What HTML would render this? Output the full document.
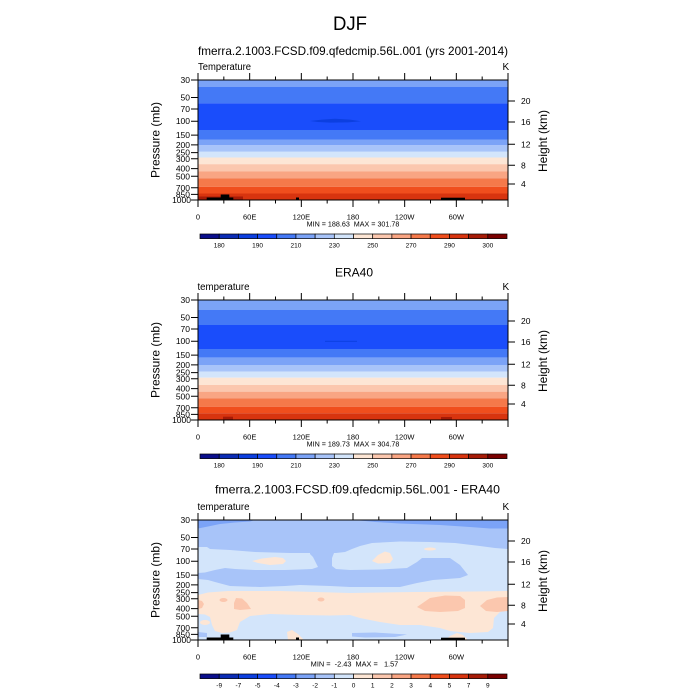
<!DOCTYPE html>
<html><head><meta charset="utf-8"><style>
html,body{margin:0;padding:0;background:#fff;}
svg{display:block;}
text{font-family:"Liberation Sans",Arial,sans-serif;fill:#000;}
</style></head><body>
<svg width="700" height="700" viewBox="0 0 700 700" xmlns="http://www.w3.org/2000/svg">
<rect width="700" height="700" fill="#fff"/>

<!-- Titles -->
<text x="350" y="30" font-size="19" text-anchor="middle" textLength="34" lengthAdjust="spacingAndGlyphs">DJF</text>
<text x="353" y="55" font-size="12" text-anchor="middle" textLength="310" lengthAdjust="spacingAndGlyphs">fmerra.2.1003.FCSD.f09.qfedcmip.56L.001 (yrs 2001-2014)</text>
<text x="354" y="276.7" font-size="12" text-anchor="middle">ERA40</text>
<text x="357.5" y="493.3" font-size="12" text-anchor="middle" textLength="285" lengthAdjust="spacingAndGlyphs">fmerra.2.1003.FCSD.f09.qfedcmip.56L.001 - ERA40</text>

<!-- ===== TOP PANEL FILL ===== -->
<g>
<rect x="198" y="80" width="310" height="7" fill="#7ba3f7"/>
<rect x="198" y="87" width="310" height="16.3" fill="#4479f6"/>
<rect x="198" y="103.3" width="310" height="26.7" fill="#1a4dfb"/>
<rect x="198" y="130" width="310" height="9.5" fill="#4479f6"/>
<rect x="198" y="139.5" width="310" height="5.8" fill="#7ba3f7"/>
<rect x="198" y="145.3" width="310" height="6.5" fill="#a8c4f9"/>
<rect x="198" y="151.8" width="310" height="5.7" fill="#d3e5fb"/>
<rect x="198" y="157.5" width="310" height="6.7" fill="#fde6d5"/>
<rect x="198" y="164.2" width="310" height="7.1" fill="#fbc7ae"/>
<rect x="198" y="171.3" width="310" height="7" fill="#f9a583"/>
<rect x="198" y="178.3" width="310" height="8.5" fill="#f5794a"/>
<rect x="198" y="186.8" width="310" height="6.7" fill="#f04e1d"/>
<rect x="198" y="193.5" width="310" height="6.5" fill="#d8340f"/>
<rect x="198" y="196.5" width="45" height="3.5" fill="#a61b07"/>
<polygon points="310,121 322,119.6 335,118.8 350,119.6 361,121.2 348,122.4 330,122.6 318,122" fill="#0c3fe0"/>
<rect x="206.7" y="197.5" width="26.6" height="2.5" fill="#000"/>
<rect x="220.7" y="194.5" width="8.6" height="5.5" fill="#000"/>
<rect x="296" y="197.5" width="3" height="2.5" fill="#000"/>
<rect x="441" y="197.7" width="24" height="2.3" fill="#000"/>
</g>

<!-- ===== MIDDLE PANEL FILL ===== -->
<g>
<rect x="198" y="300" width="310" height="10" fill="#7ba3f7"/>
<rect x="198" y="310" width="310" height="15" fill="#4479f6"/>
<rect x="198" y="325" width="310" height="24" fill="#1a4dfb"/>
<rect x="198" y="349" width="310" height="8.7" fill="#4479f6"/>
<rect x="198" y="357.7" width="310" height="7.3" fill="#7ba3f7"/>
<rect x="198" y="365" width="310" height="6.7" fill="#a8c4f9"/>
<rect x="198" y="371.7" width="310" height="6" fill="#d3e5fb"/>
<rect x="198" y="377.7" width="310" height="7.3" fill="#fde6d5"/>
<rect x="198" y="385" width="310" height="6.7" fill="#fbc7ae"/>
<rect x="198" y="391.7" width="310" height="6.6" fill="#f9a583"/>
<rect x="198" y="398.3" width="310" height="8.4" fill="#f5794a"/>
<rect x="198" y="406.7" width="310" height="6.6" fill="#f04e1d"/>
<rect x="198" y="413.3" width="310" height="6.7" fill="#d8340f"/>
<rect x="223" y="416.7" width="10" height="3.3" fill="#a61b07"/>
<rect x="441" y="417" width="11" height="3" fill="#a61b07"/>
<rect x="325" y="340.8" width="32" height="1" fill="#0c3fe0"/>
</g>

<!-- ===== BOTTOM PANEL FILL ===== -->
<g>
<rect x="198" y="520" width="310" height="120" fill="#a8c4f9"/>
<polygon points="198,520 255,520 250,521.5 235,522.5 220,524 208,526.5 198,528.5" fill="#7ba3f7"/>
<polygon points="355,520 508,520 508,528.5 490,528.5 470,527 440,525 400,523.5 375,522" fill="#7ba3f7"/>
<polygon points="198,547 207,547 210,549 230,550 255,552 290,553 310,553 330,553 336,553 345,552 352,549 360,546 372,543 400,541.5 430,542 455,543 480,546 495,548 508,549 508,640 198,640" fill="#d3e5fb"/>
<polygon points="310,545 335,545 334,553 332,558 332,566 336,569 350,570 380,569.5 407,568 417,562 422,558 450,558 460,565 468,575 460,578 433,580 417,583 400,587 350,587 330,586 300,585 285,586 260,587 230,586 215,582 208,580 198,579 198,573 205,572.5 215,570 225,568 235,569 255,570 285,570 300,569.5 312,569 318,567 316,563 313,557 310,554" fill="#a8c4f9"/>
<!-- peach band -->
<polygon points="198,595 208,592.5 228,591 280,591 350,593 415,592 475,591.5 508,591 508,610 500,612 494,618 493,628 488,632 470,633 450,631 440,628 420,625 400,625 380,622 360,618 350,615 330,615.5 300,615 270,614 250,616 240,622 237,630 230,632.5 222,633 215,631 212,625 210,617 205,614.5 198,614" fill="#fde6d5"/>
<ellipse cx="205" cy="622.5" rx="5" ry="2.5" fill="#fde6d5"/>
<!-- darker peach blobs -->
<polygon points="198,600 202,601 204,604 202,608 198,609" fill="#fbc7ae"/>
<ellipse cx="223.5" cy="600" rx="4" ry="2" fill="#fbc7ae"/>
<polygon points="236,598 242,598.5 247,603 251,609 240,610 234,609 234,603" fill="#fbc7ae"/>
<ellipse cx="321" cy="599.5" rx="3.5" ry="2" fill="#fbc7ae"/>
<polygon points="417,607 430,598 445,595.5 460,596 465,600 465,608 458,611 440,612 425,611" fill="#fbc7ae"/>
<polygon points="480,606 487,600 497,597.5 508,597 508,611 497,612 486,611" fill="#fbc7ae"/>
<!-- peach blobs upper -->
<polygon points="252,561 262,558.5 275,557 283,558 286,561 283,564 270,565 258,563" fill="#fde6d5"/>
<polygon points="372,561 378,555 385,551.5 390,553 393,559 390,563 378,563.5" fill="#fde6d5"/>
<ellipse cx="430" cy="549" rx="6" ry="1.5" fill="#fde6d5"/>
<!-- low-level streaks -->
<polygon points="352,633 375,632.5 407,634.5 395,637 365,637.5 352,636.5" fill="#a8c4f9"/>
<polygon points="198,632 207,633 207,637 198,637" fill="#a8c4f9"/>
<polygon points="287,632 292,630 298,634 304,640 288,640" fill="#fde6d5"/>
<polygon points="445,640 450,636 457,633 463,635 468,640" fill="#fde6d5"/>
<!-- topography -->
<rect x="206.7" y="637.5" width="26.6" height="2.5" fill="#000"/>
<rect x="220.7" y="634.5" width="8.6" height="5.5" fill="#000"/>
<rect x="296" y="637.5" width="3" height="2.5" fill="#000"/>
<rect x="441" y="637.7" width="24" height="2.3" fill="#000"/>
</g>

<!-- ===== AXES (three panels) ===== -->
<g id="ax0" stroke="#000" stroke-width="1" fill="none">
<rect x="198" y="80" width="310" height="120"/>
<path d="M198 80V73M223.83 80V76.5M249.67 80V73M275.5 80V76.5M301.33 80V73M327.17 80V76.5M353 80V73M378.83 80V76.5M404.67 80V73M430.5 80V76.5M456.33 80V73M482.17 80V76.5M508 80V73
M198 200V207M223.83 200V203.5M249.67 200V207M275.5 200V203.5M301.33 200V207M327.17 200V203.5M353 200V207M378.83 200V203.5M404.67 200V207M430.5 200V203.5M456.33 200V207M482.17 200V203.5M508 200V207
M198 80H191M198 97.5H191M198 109H191M198 121.2H191M198 135.1H191M198 144.9H191M198 152.6H191M198 158.8H191M198 168.6H191M198 176.3H191M198 187.8H191M198 194.4H191M198 200H191
M508 101H515M508 122H515M508 144.3H515M508 165.3H515M508 184H515"/>
</g>
<g stroke="#000" stroke-width="1" fill="none" transform="translate(0,220)">
<rect x="198" y="80" width="310" height="120"/>
<path d="M198 80V73M223.83 80V76.5M249.67 80V73M275.5 80V76.5M301.33 80V73M327.17 80V76.5M353 80V73M378.83 80V76.5M404.67 80V73M430.5 80V76.5M456.33 80V73M482.17 80V76.5M508 80V73
M198 200V207M223.83 200V203.5M249.67 200V207M275.5 200V203.5M301.33 200V207M327.17 200V203.5M353 200V207M378.83 200V203.5M404.67 200V207M430.5 200V203.5M456.33 200V207M482.17 200V203.5M508 200V207
M198 80H191M198 97.5H191M198 109H191M198 121.2H191M198 135.1H191M198 144.9H191M198 152.6H191M198 158.8H191M198 168.6H191M198 176.3H191M198 187.8H191M198 194.4H191M198 200H191
M508 101H515M508 122H515M508 144.3H515M508 165.3H515M508 184H515"/>
</g>
<g stroke="#000" stroke-width="1" fill="none" transform="translate(0,440)">
<rect x="198" y="80" width="310" height="120"/>
<path d="M198 80V73M223.83 80V76.5M249.67 80V73M275.5 80V76.5M301.33 80V73M327.17 80V76.5M353 80V73M378.83 80V76.5M404.67 80V73M430.5 80V76.5M456.33 80V73M482.17 80V76.5M508 80V73
M198 200V207M223.83 200V203.5M249.67 200V207M275.5 200V203.5M301.33 200V207M327.17 200V203.5M353 200V207M378.83 200V203.5M404.67 200V207M430.5 200V203.5M456.33 200V207M482.17 200V203.5M508 200V207
M198 80H191M198 97.5H191M198 109H191M198 121.2H191M198 135.1H191M198 144.9H191M198 152.6H191M198 158.8H191M198 168.6H191M198 176.3H191M198 187.8H191M198 194.4H191M198 200H191
M508 101H515M508 122H515M508 144.3H515M508 165.3H515M508 184H515"/>
</g>

<!-- ===== AXIS TEXT panel 1 ===== -->
<g font-size="8.5" text-anchor="end">
<text x="190" y="83">30</text><text x="190" y="100.5">50</text><text x="190" y="112">70</text><text x="190" y="124.2">100</text><text x="190" y="138.1">150</text><text x="190" y="147.9">200</text><text x="190" y="155.6">250</text><text x="190" y="161.8">300</text><text x="190" y="171.6">400</text><text x="190" y="179.3">500</text><text x="190" y="190.8">700</text><text x="190" y="197.4">850</text><text x="191" y="203">1000</text>
</g>
<g font-size="8.5"><text x="521" y="104">20</text><text x="521" y="125">16</text><text x="521" y="147.3">12</text><text x="521" y="168.3">8</text><text x="521" y="187">4</text></g>
<g font-size="7.5" text-anchor="middle"><text x="198" y="219.3">0</text><text x="249.67" y="219.3">60E</text><text x="301.33" y="219.3">120E</text><text x="353" y="219.3">180</text><text x="404.67" y="219.3">120W</text><text x="456.33" y="219.3">60W</text></g>
<text x="198" y="70" font-size="10" textLength="53" lengthAdjust="spacingAndGlyphs">Temperature</text>
<text x="502.5" y="70" font-size="10">K</text>
<text transform="translate(159.5,140) rotate(-90)" font-size="12" text-anchor="middle">Pressure (mb)</text>
<text transform="translate(547,141) rotate(-90)" font-size="12" text-anchor="middle">Height (km)</text>
<text x="353" y="226.7" font-size="7" text-anchor="middle" style="white-space:pre" textLength="92.7" lengthAdjust="spacingAndGlyphs">MIN = 188.63  MAX = 301.78</text>

<!-- ===== AXIS TEXT panel 2 ===== -->
<g transform="translate(0,220)">
<g font-size="8.5" text-anchor="end">
<text x="190" y="83">30</text><text x="190" y="100.5">50</text><text x="190" y="112">70</text><text x="190" y="124.2">100</text><text x="190" y="138.1">150</text><text x="190" y="147.9">200</text><text x="190" y="155.6">250</text><text x="190" y="161.8">300</text><text x="190" y="171.6">400</text><text x="190" y="179.3">500</text><text x="190" y="190.8">700</text><text x="190" y="197.4">850</text><text x="191" y="203">1000</text>
</g>
<g font-size="8.5"><text x="521" y="104">20</text><text x="521" y="125">16</text><text x="521" y="147.3">12</text><text x="521" y="168.3">8</text><text x="521" y="187">4</text></g>
<g font-size="7.5" text-anchor="middle"><text x="198" y="219.3">0</text><text x="249.67" y="219.3">60E</text><text x="301.33" y="219.3">120E</text><text x="353" y="219.3">180</text><text x="404.67" y="219.3">120W</text><text x="456.33" y="219.3">60W</text></g>
<text x="197.5" y="70" font-size="10" textLength="52" lengthAdjust="spacingAndGlyphs">temperature</text>
<text x="502.5" y="70" font-size="10">K</text>
<text transform="translate(159.5,140) rotate(-90)" font-size="12" text-anchor="middle">Pressure (mb)</text>
<text transform="translate(547,141) rotate(-90)" font-size="12" text-anchor="middle">Height (km)</text>
<text x="353" y="226.7" font-size="7" text-anchor="middle" style="white-space:pre" textLength="92.7" lengthAdjust="spacingAndGlyphs">MIN = 189.73  MAX = 304.78</text>
</g>

<!-- ===== AXIS TEXT panel 3 ===== -->
<g transform="translate(0,440)">
<g font-size="8.5" text-anchor="end">
<text x="190" y="83">30</text><text x="190" y="100.5">50</text><text x="190" y="112">70</text><text x="190" y="124.2">100</text><text x="190" y="138.1">150</text><text x="190" y="147.9">200</text><text x="190" y="155.6">250</text><text x="190" y="161.8">300</text><text x="190" y="171.6">400</text><text x="190" y="179.3">500</text><text x="190" y="190.8">700</text><text x="190" y="197.4">850</text><text x="191" y="203">1000</text>
</g>
<g font-size="8.5"><text x="521" y="104">20</text><text x="521" y="125">16</text><text x="521" y="147.3">12</text><text x="521" y="168.3">8</text><text x="521" y="187">4</text></g>
<g font-size="7.5" text-anchor="middle"><text x="198" y="219.3">0</text><text x="249.67" y="219.3">60E</text><text x="301.33" y="219.3">120E</text><text x="353" y="219.3">180</text><text x="404.67" y="219.3">120W</text><text x="456.33" y="219.3">60W</text></g>
<text x="197.5" y="70" font-size="10" textLength="52" lengthAdjust="spacingAndGlyphs">temperature</text>
<text x="502.5" y="70" font-size="10">K</text>
<text transform="translate(159.5,140) rotate(-90)" font-size="12" text-anchor="middle">Pressure (mb)</text>
<text transform="translate(547,141) rotate(-90)" font-size="12" text-anchor="middle">Height (km)</text>
<text x="354.5" y="226.7" font-size="7" text-anchor="middle" style="white-space:pre" textLength="87.6" lengthAdjust="spacingAndGlyphs">MIN =  -2.43  MAX =   1.57</text>
</g>

<!-- ===== COLORBARS ===== -->
<g stroke="#000" stroke-width="0.7">
<rect x="200" y="234" width="19.19" height="4.6" fill="#0b0f8c"/>
<rect x="219.19" y="234" width="19.19" height="4.6" fill="#0a2cb5"/>
<rect x="238.38" y="234" width="19.19" height="4.6" fill="#0c3fe0"/>
<rect x="257.56" y="234" width="19.19" height="4.6" fill="#1a4dfb"/>
<rect x="276.75" y="234" width="19.19" height="4.6" fill="#4479f6"/>
<rect x="295.94" y="234" width="19.19" height="4.6" fill="#7ba3f7"/>
<rect x="315.13" y="234" width="19.19" height="4.6" fill="#a8c4f9"/>
<rect x="334.31" y="234" width="19.19" height="4.6" fill="#d3e5fb"/>
<rect x="353.5" y="234" width="19.19" height="4.6" fill="#fde6d5"/>
<rect x="372.69" y="234" width="19.19" height="4.6" fill="#fbc7ae"/>
<rect x="391.88" y="234" width="19.19" height="4.6" fill="#f9a583"/>
<rect x="411.06" y="234" width="19.19" height="4.6" fill="#f5794a"/>
<rect x="430.25" y="234" width="19.19" height="4.6" fill="#f04e1d"/>
<rect x="449.44" y="234" width="19.19" height="4.6" fill="#d8340f"/>
<rect x="468.63" y="234" width="19.19" height="4.6" fill="#a61b07"/>
<rect x="487.81" y="234" width="19.19" height="4.6" fill="#7a0000"/>
</g>
<g stroke="#000" stroke-width="0.7" transform="translate(0,220)">
<rect x="200" y="234" width="19.19" height="4.6" fill="#0b0f8c"/>
<rect x="219.19" y="234" width="19.19" height="4.6" fill="#0a2cb5"/>
<rect x="238.38" y="234" width="19.19" height="4.6" fill="#0c3fe0"/>
<rect x="257.56" y="234" width="19.19" height="4.6" fill="#1a4dfb"/>
<rect x="276.75" y="234" width="19.19" height="4.6" fill="#4479f6"/>
<rect x="295.94" y="234" width="19.19" height="4.6" fill="#7ba3f7"/>
<rect x="315.13" y="234" width="19.19" height="4.6" fill="#a8c4f9"/>
<rect x="334.31" y="234" width="19.19" height="4.6" fill="#d3e5fb"/>
<rect x="353.5" y="234" width="19.19" height="4.6" fill="#fde6d5"/>
<rect x="372.69" y="234" width="19.19" height="4.6" fill="#fbc7ae"/>
<rect x="391.88" y="234" width="19.19" height="4.6" fill="#f9a583"/>
<rect x="411.06" y="234" width="19.19" height="4.6" fill="#f5794a"/>
<rect x="430.25" y="234" width="19.19" height="4.6" fill="#f04e1d"/>
<rect x="449.44" y="234" width="19.19" height="4.6" fill="#d8340f"/>
<rect x="468.63" y="234" width="19.19" height="4.6" fill="#a61b07"/>
<rect x="487.81" y="234" width="19.19" height="4.6" fill="#7a0000"/>
</g>
<g stroke="#000" stroke-width="0.7" transform="translate(0,440)">
<rect x="200" y="234" width="19.19" height="4.6" fill="#0b0f8c"/>
<rect x="219.19" y="234" width="19.19" height="4.6" fill="#0a2cb5"/>
<rect x="238.38" y="234" width="19.19" height="4.6" fill="#0c3fe0"/>
<rect x="257.56" y="234" width="19.19" height="4.6" fill="#1a4dfb"/>
<rect x="276.75" y="234" width="19.19" height="4.6" fill="#4479f6"/>
<rect x="295.94" y="234" width="19.19" height="4.6" fill="#7ba3f7"/>
<rect x="315.13" y="234" width="19.19" height="4.6" fill="#a8c4f9"/>
<rect x="334.31" y="234" width="19.19" height="4.6" fill="#d3e5fb"/>
<rect x="353.5" y="234" width="19.19" height="4.6" fill="#fde6d5"/>
<rect x="372.69" y="234" width="19.19" height="4.6" fill="#fbc7ae"/>
<rect x="391.88" y="234" width="19.19" height="4.6" fill="#f9a583"/>
<rect x="411.06" y="234" width="19.19" height="4.6" fill="#f5794a"/>
<rect x="430.25" y="234" width="19.19" height="4.6" fill="#f04e1d"/>
<rect x="449.44" y="234" width="19.19" height="4.6" fill="#d8340f"/>
<rect x="468.63" y="234" width="19.19" height="4.6" fill="#a61b07"/>
<rect x="487.81" y="234" width="19.19" height="4.6" fill="#7a0000"/>
</g>
<g font-size="6.5" text-anchor="middle">
<text x="219.2" y="247.5">180</text><text x="257.6" y="247.5">190</text><text x="295.9" y="247.5">210</text><text x="334.3" y="247.5">230</text><text x="372.7" y="247.5">250</text><text x="411.1" y="247.5">270</text><text x="449.4" y="247.5">290</text><text x="487.8" y="247.5">300</text>
</g>
<g font-size="6.5" text-anchor="middle" transform="translate(0,220)">
<text x="219.2" y="247.5">180</text><text x="257.6" y="247.5">190</text><text x="295.9" y="247.5">210</text><text x="334.3" y="247.5">230</text><text x="372.7" y="247.5">250</text><text x="411.1" y="247.5">270</text><text x="449.4" y="247.5">290</text><text x="487.8" y="247.5">300</text>
</g>
<g font-size="6.5" text-anchor="middle" transform="translate(0,440)">
<text x="219.2" y="247.5">-9</text><text x="238.4" y="247.5">-7</text><text x="257.6" y="247.5">-5</text><text x="276.8" y="247.5">-4</text><text x="295.9" y="247.5">-3</text><text x="315.1" y="247.5">-2</text><text x="334.3" y="247.5">-1</text><text x="353.5" y="247.5">0</text><text x="372.7" y="247.5">1</text><text x="391.9" y="247.5">2</text><text x="411.1" y="247.5">3</text><text x="430.3" y="247.5">4</text><text x="449.4" y="247.5">5</text><text x="468.6" y="247.5">7</text><text x="487.8" y="247.5">9</text>
</g>
</svg>
</body></html>
